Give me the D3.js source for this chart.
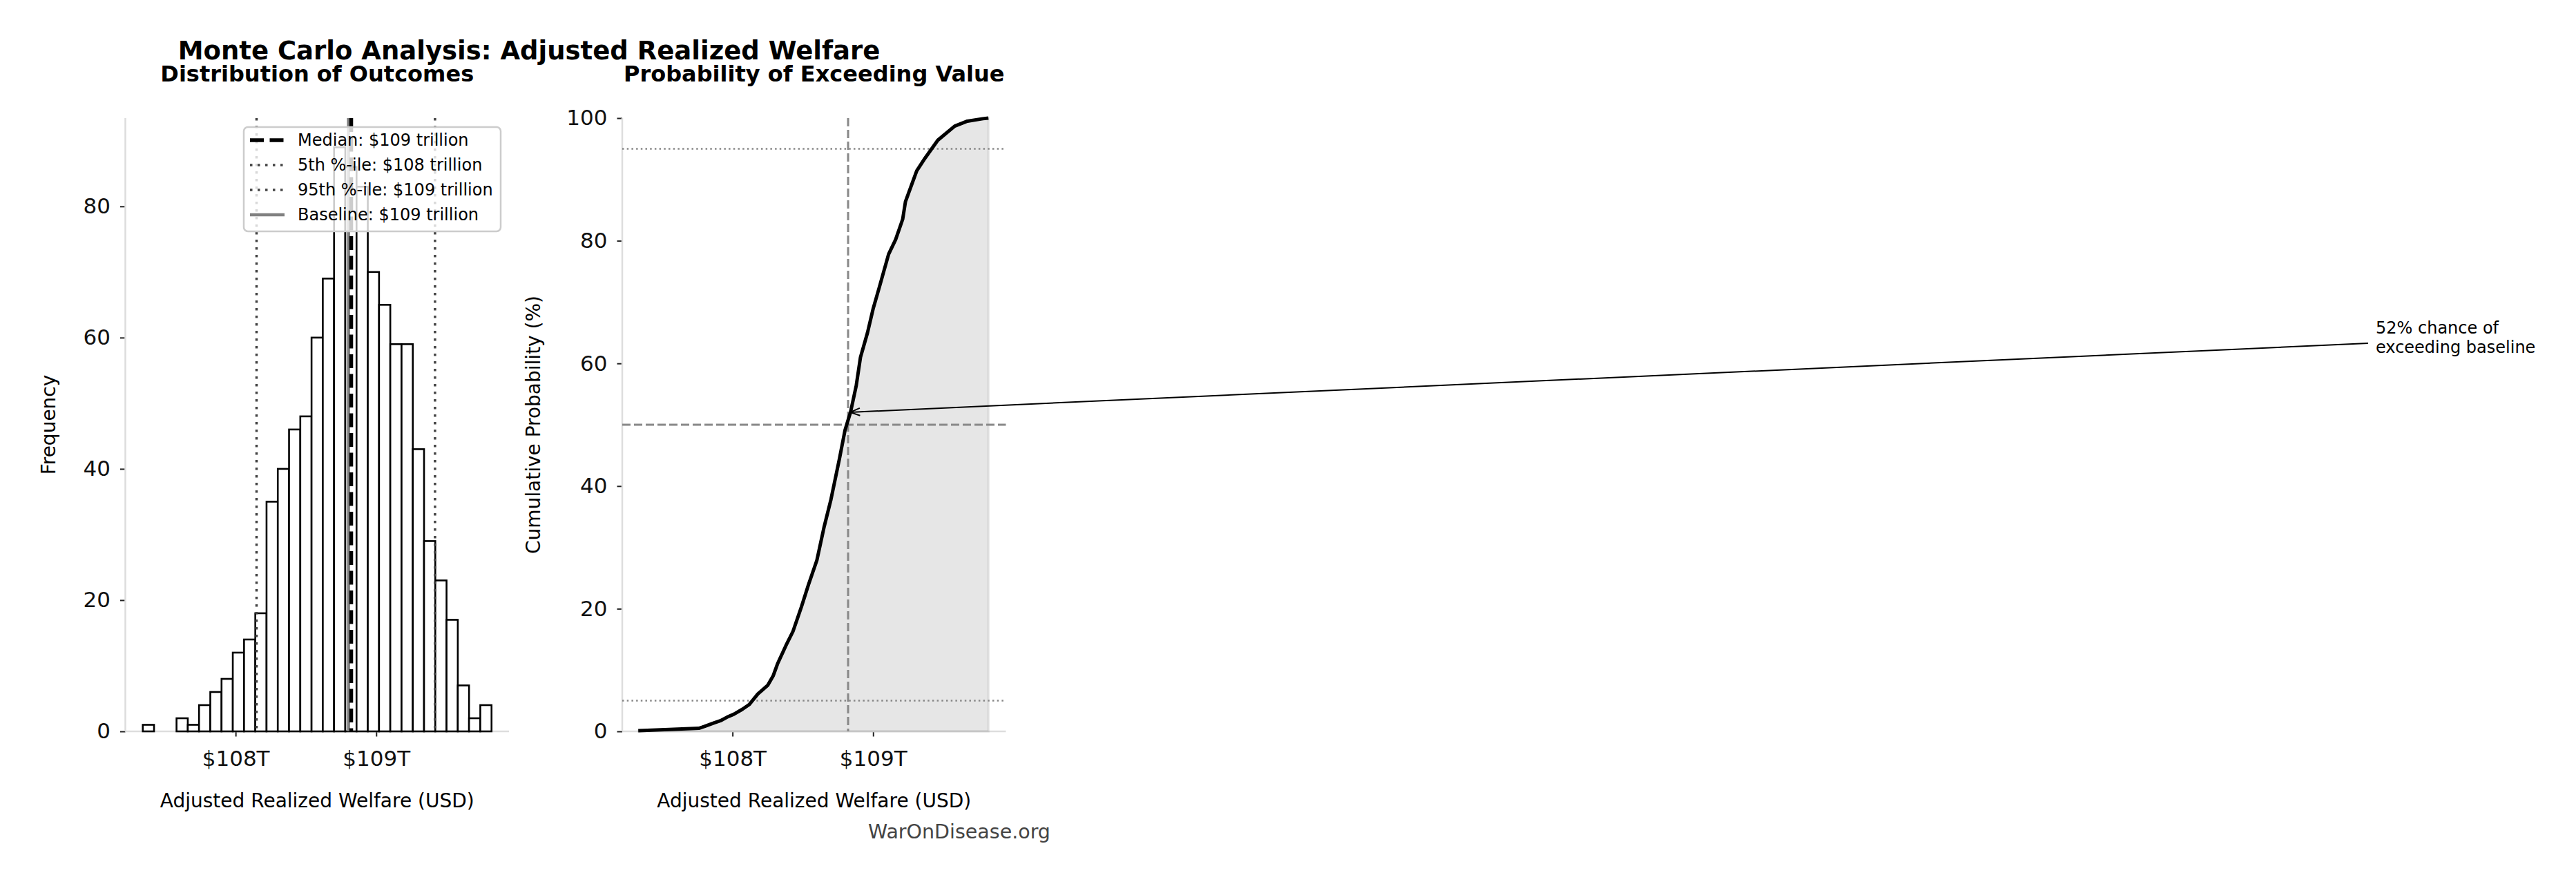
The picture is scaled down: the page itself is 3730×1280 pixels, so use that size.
<!DOCTYPE html>
<html>
<head>
<meta charset="utf-8">
<script src="https://cdn.jsdelivr.net/npm/d3@7"></script>
<style>
  body { margin: 0; background: #ffffff; }
  text { font-family: "DejaVu Sans", sans-serif; }
</style>
</head>
<body>
<div id="myDiv"></div>
<script>
//--------------------------------------------------
// Data ($ trillion)
//--------------------------------------------------

// histogram of 1000 Monte Carlo runs, equal-width bins from histMin to histMax
var histMin = 107.34;
var histMax = 109.82;
var histCounts = [1, 0, 0, 2, 1, 4, 6, 8, 12, 14, 18, 35, 40, 46, 48, 60, 69,
                  89, 86, 83, 70, 65, 59, 59, 43, 29, 23, 17, 7, 2, 4];

// summary lines
var statNames = ['Median', '5th %-ile', '95th %-ile', 'Baseline'];
var statValues = [108.822, 108.149, 109.418, 108.803];
var statLabels = ['$109 trillion', '$108 trillion', '$109 trillion', '$109 trillion'];

var cdfValues = [107.33, 107.55, 107.76, 107.80, 107.87, 107.92, 107.96, 108.01, 108.07,
                 108.12, 108.18, 108.25, 108.29, 108.32, 108.38, 108.43, 108.49, 108.54,
                 108.60, 108.65, 108.70, 108.76, 108.80, 108.84, 108.88, 108.91, 108.96,
                 109.00, 109.05, 109.11, 109.16, 109.21, 109.23, 109.31, 109.37, 109.46,
                 109.58, 109.67, 109.78, 109.82];
var cdfPercents = [0.1, 0.3, 0.5, 0.8, 1.4, 1.8, 2.3, 2.8, 3.6,
                   4.4, 6.1, 7.5, 9.1, 11.0, 14.0, 16.3, 20.3, 23.9,
                   27.9, 33.2, 37.8, 44.4, 49.1, 52.1, 56.4, 61.0, 65.0,
                   68.9, 72.9, 77.8, 80.2, 83.5, 86.4, 91.4, 93.5, 96.4,
                   98.7, 99.5, 99.9, 100];

var xTickValues = [108, 109];
var freqTicks = [0, 20, 40, 60, 80];
var probTicks = [0, 20, 40, 60, 80, 100];
var probDottedLines = [5, 95];
var probDashedLine = 50;
var exceedPct = 52;

var mainTitle = 'Monte Carlo Analysis: Adjusted Realized Welfare';
var leftTitle = 'Distribution of Outcomes';
var rightTitle = 'Probability of Exceeding Value';
var xAxisTitle = 'Adjusted Realized Welfare (USD)';
var annotationLines = ['52% chance of', 'exceeding baseline'];
var watermark = 'WarOnDisease.org';

//--------------------------------------------------
// Layout
//--------------------------------------------------
var W = 3730, H = 1280;
var plotTop = 171, plotBottom = 1059;
var leftPanel = {x0: 181.5, x1: 737};
var rightPanel = {x0: 901, x1: 1456.5};
var spineColor = '#dddddd';

var svg = d3.select('#myDiv').append('svg')
  .attr('width', W)
  .attr('height', H)
  .style('background', '#ffffff');

// same x domain for both panels, matplotlib-like 5% padding
var pad = (histMax - histMin) * 0.05;
var xDomain = [histMin - pad, histMax + pad];

var xL = d3.scaleLinear().domain(xDomain).range([leftPanel.x0, leftPanel.x1]);
var xR = d3.scaleLinear().domain(xDomain).range([rightPanel.x0, rightPanel.x1]);
var yL = d3.scaleLinear().domain([0, d3.max(histCounts) * 1.05]).range([plotBottom, plotTop]);
var yR = d3.scaleLinear().domain([0, 100]).range([plotBottom, plotTop]);

var binWidth = (histMax - histMin) / histCounts.length;

// titles
svg.append('text')
  .attr('x', 766).attr('y', 86)
  .attr('text-anchor', 'middle')
  .style('font-size', '37px').style('font-weight', 'bold')
  .text(mainTitle);

svg.append('text')
  .attr('x', (leftPanel.x0 + leftPanel.x1) / 2).attr('y', 118)
  .attr('text-anchor', 'middle')
  .style('font-size', '32px').style('font-weight', 'bold')
  .text(leftTitle);

svg.append('text')
  .attr('x', (rightPanel.x0 + rightPanel.x1) / 2).attr('y', 118)
  .attr('text-anchor', 'middle')
  .style('font-size', '32px').style('font-weight', 'bold')
  .text(rightTitle);

drawAxes(xL, yL, freqTicks, leftPanel);
drawAxes(xR, yR, probTicks, rightPanel);
drawHistogram();
drawCdf();
drawLegend();

// y labels
svg.append('text')
  .attr('transform', 'translate(80,' + (plotTop + plotBottom) / 2 + ') rotate(-90)')
  .attr('text-anchor', 'middle')
  .style('font-size', '28px')
  .text('Frequency');

svg.append('text')
  .attr('transform', 'translate(782,' + (plotTop + plotBottom) / 2 + ') rotate(-90)')
  .attr('text-anchor', 'middle')
  .style('font-size', '28px')
  .text('Cumulative Probability (%)');

// watermark
svg.append('text')
  .attr('x', 1389).attr('y', 1214)
  .attr('text-anchor', 'middle')
  .style('font-size', '28.5px')
  .style('fill', '#444444')
  .text(watermark);

function drawAxes(x, y, yTicks, panel) {
  var g = svg.append('g');

  // x axis
  var xAxis = g.append('g')
    .attr('transform', 'translate(0,' + plotBottom + ')')
    .call(d3.axisBottom(x).tickValues(xTickValues).tickSize(7.5).tickPadding(20)
      .tickFormat(function(d) { return '$' + d + 'T'; }));
  // y axis
  var yAxis = g.append('g')
    .attr('transform', 'translate(' + panel.x0 + ',0)')
    .call(d3.axisLeft(y).tickValues(yTicks).tickSize(7.5).tickPadding(14));

  [xAxis, yAxis].forEach(function(a) {
    a.select('.domain').remove();
    a.selectAll('.tick line').attr('stroke', '#222').attr('stroke-width', 2);
    a.selectAll('.tick text')
      .style('font-size', '31px')
      .style('font-family', '"DejaVu Sans", sans-serif')
      .attr('fill', '#111');
  });

  // spines (left, bottom only)
  g.append('line')
    .attr('x1', panel.x0).attr('x2', panel.x0)
    .attr('y1', plotTop).attr('y2', plotBottom)
    .attr('stroke', spineColor).attr('stroke-width', 2.5);
  g.append('line')
    .attr('x1', panel.x0).attr('x2', panel.x1)
    .attr('y1', plotBottom).attr('y2', plotBottom)
    .attr('stroke', spineColor).attr('stroke-width', 2.5);

  // x axis title
  g.append('text')
    .attr('x', (panel.x0 + panel.x1) / 2).attr('y', 1169)
    .attr('text-anchor', 'middle')
    .style('font-size', '28px')
    .text(xAxisTitle);
}

function statStyle(i) {
  // Median, 5th, 95th, Baseline
  var styles = [
    {stroke: '#000000', width: 5.5, dash: '20,8.5'},
    {stroke: '#444444', width: 3.5, dash: '3.5,7.5'},
    {stroke: '#444444', width: 3.5, dash: '3.5,7.5'},
    {stroke: '#808080', width: 4.5, dash: null}
  ];
  return styles[i];
}

function drawHistogram() {
  var bins = histCounts.map(function(c, i) {
    return {x0: histMin + i * binWidth, x1: histMin + (i + 1) * binWidth, count: c};
  });

  svg.append('g').selectAll('rect')
    .data(bins.filter(function(b) { return b.count > 0; }))
    .enter().append('rect')
      .attr('x', function(d) { return xL(d.x0); })
      .attr('y', function(d) { return yL(d.count); })
      .attr('width', function(d) { return xL(d.x1) - xL(d.x0); })
      .attr('height', function(d) { return yL(0) - yL(d.count); })
      .attr('fill', '#ffffff')
      .attr('stroke', '#000000')
      .attr('stroke-width', 2.6);

  // baseline first, then percentiles and median
  var order = [3, 1, 2, 0];
  svg.append('g').selectAll('line')
    .data(order)
    .enter().append('line')
      .attr('x1', function(i) { return xL(statValues[i]); })
      .attr('x2', function(i) { return xL(statValues[i]); })
      .attr('y1', plotTop).attr('y2', plotBottom)
      .attr('stroke', function(i) { return statStyle(i).stroke; })
      .attr('stroke-width', function(i) { return statStyle(i).width; })
      .attr('stroke-dasharray', function(i) { return statStyle(i).dash; });
}

function drawLegend() {
  var box = {x: 353, y: 184, w: 372, h: 151};
  var g = svg.append('g');
  g.append('rect')
    .attr('x', box.x).attr('y', box.y)
    .attr('width', box.w).attr('height', box.h)
    .attr('rx', 6).attr('ry', 6)
    .attr('fill', '#ffffff').attr('fill-opacity', 0.8)
    .attr('stroke', '#cccccc').attr('stroke-width', 2.5);

  var rowHeight = 36;
  var rows = g.selectAll('g.row')
    .data(statNames)
    .enter().append('g')
      .attr('transform', function(d, i) { return 'translate(0,' + (box.y + 19 + i * rowHeight) + ')'; });

  rows.append('line')
    .attr('x1', 362).attr('x2', 412)
    .attr('stroke', function(d, i) { return statStyle(i).stroke; })
    .attr('stroke-width', function(d, i) { return statStyle(i).width; })
    .attr('stroke-dasharray', function(d, i) { return statStyle(i).dash; });

  rows.append('text')
    .attr('x', 431).attr('y', 0)
    .attr('dy', '0.35em')
    .style('font-size', '24px')
    .text(function(d, i) { return d + ': ' + statLabels[i]; });
}

function drawCdf() {
  var pts = cdfValues.map(function(v, i) { return [v, cdfPercents[i]]; });

  // shaded area under the curve
  var area = d3.area()
    .x(function(d) { return xR(d[0]); })
    .y0(yR(0))
    .y1(function(d) { return yR(d[1]); });
  svg.append('path')
    .datum(pts)
    .attr('d', area)
    .attr('fill', '#808080').attr('fill-opacity', 0.2)
    .attr('stroke', '#808080').attr('stroke-opacity', 0.2).attr('stroke-width', 3);

  // reference lines
  svg.append('g').selectAll('line')
    .data(probDottedLines)
    .enter().append('line')
      .attr('x1', rightPanel.x0).attr('x2', rightPanel.x1)
      .attr('y1', function(d) { return yR(d); })
      .attr('y2', function(d) { return yR(d); })
      .attr('stroke', '#888888').attr('stroke-width', 2.5)
      .attr('stroke-dasharray', '2.5,4.2');

  svg.append('line')
    .attr('x1', rightPanel.x0).attr('x2', rightPanel.x1)
    .attr('y1', yR(probDashedLine)).attr('y2', yR(probDashedLine))
    .attr('stroke', '#888888').attr('stroke-width', 3)
    .attr('stroke-dasharray', '12,5');

  svg.append('line')
    .attr('x1', xR(statValues[0])).attr('x2', xR(statValues[0]))
    .attr('y1', plotTop).attr('y2', plotBottom)
    .attr('stroke', '#888888').attr('stroke-width', 3)
    .attr('stroke-dasharray', '12,5');

  // the curve
  var line = d3.line()
    .x(function(d) { return xR(d[0]); })
    .y(function(d) { return yR(d[1]); });
  svg.append('path')
    .datum(pts)
    .attr('d', line)
    .attr('fill', 'none')
    .attr('stroke', '#000000')
    .attr('stroke-width', 5)
    .attr('stroke-linejoin', 'round');

  // annotation with arrow
  var tx = 3440, ty = 483;
  var ann = svg.append('text')
    .attr('x', tx).attr('y', ty)
    .style('font-size', '24px');
  ann.selectAll('tspan')
    .data(annotationLines)
    .enter().append('tspan')
      .attr('x', tx)
      .attr('dy', function(d, i) { return i === 0 ? 0 : 28; })
      .text(function(d) { return d; });

  var tipX = xR(statValues[3]), tipY = yR(exceedPct);
  var sx = 3429, sy = 497;
  var ang = Math.atan2(sy - tipY, sx - tipX);
  var shrink = 7;
  var ax = tipX + shrink * Math.cos(ang), ay = tipY + shrink * Math.sin(ang);
  svg.append('line')
    .attr('x1', ax).attr('y1', ay)
    .attr('x2', sx).attr('y2', sy)
    .attr('stroke', '#000').attr('stroke-width', 2);

  // open "->" arrowhead at the tip
  var headLen = 14, headHalf = 5.5;
  var bx = ax + headLen * Math.cos(ang), by = ay + headLen * Math.sin(ang);
  var nx = -Math.sin(ang) * headHalf, ny = Math.cos(ang) * headHalf;
  svg.append('path')
    .attr('d', 'M' + (bx + nx) + ',' + (by + ny) + 'L' + ax + ',' + ay + 'L' + (bx - nx) + ',' + (by - ny))
    .attr('fill', 'none')
    .attr('stroke', '#000')
    .attr('stroke-width', 2);
}
</script>
</body>
</html>
